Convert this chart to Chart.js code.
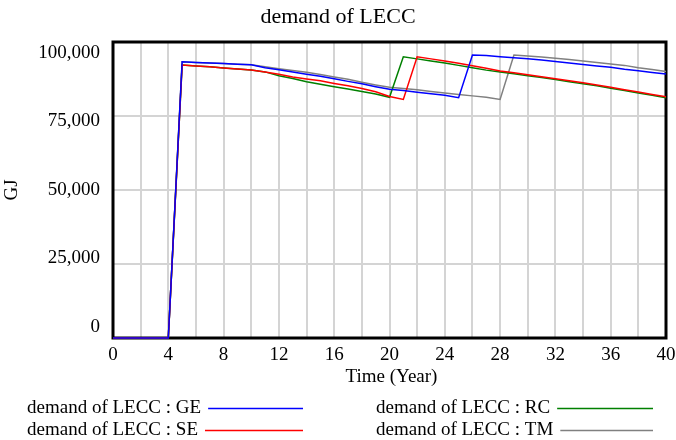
<!DOCTYPE html>
<html>
<head>
<meta charset="utf-8">
<script src="https://cdn.jsdelivr.net/npm/chart.js@4/dist/chart.umd.min.js"></script>
<style>
html,body{margin:0;padding:0;background:#fff;}
#c{display:block;}
</style>
</head>
<body>
<canvas id="c" width="676" height="440"></canvas>
<script>
const chartTitle = 'demand of LECC';
const xTitle = 'Time (Year)';
const yTitle = 'GJ';
const years = [0,1,2,3,4,5,6,7,8,9,10,11,12,13,14,15,16,17,18,19,20,21,22,23,24,25,26,27,28,29,30,31,32,33,34,35,36,37,38,39,40];
const yTicks = [0, 25000, 50000, 75000, 100000];
const seriesNames = ['demand of LECC : GE', 'demand of LECC : SE', 'demand of LECC : RC', 'demand of LECC : TM'];
const seriesColors = ['#0000ff', '#ff0000', '#008000', '#808080'];
const GE = [0,0,0,0,0, 93300,93100,92900,92700,92500,92300, 91300,90600,89900,89100,88400,87600,86700,85900,84900,84000, 83600,83000,82500,82000,81200, 95600,95400,95000,94700,94300,93900,93400,92900,92400,91900,91500,90800,90300,89700,89200];
const SE = [0,0,0,0,0, 92200,91900,91600,91200,90900,90500, 89900,89100,88200,87500,86900,86000,85200,84300,83200,81600, 80600, 95000,94300,93600,92800,92000,91100,90200,89600,88900,88300,87600,86900,86200,85500,84700,83900,83100,82300,81500];
const RC = [0,0,0,0,0, 92200,91900,91600,91200,90900,90500, 89900,88600,87700,86600,85700,84900,84100,83300,82400,81300, 95000,94300,93600,92900,92100,91300,90500,89900,89300,88600,88000,87300,86600,85900,85200,84400,83600,82800,82000,81200];
const TM = [0,0,0,0,0, 93300,93100,92900,92700,92500,92300, 91600,91000,90400,89800,89000,88200,87400,86400,85500,84700, 84300,83900,83300,82800,82300,81800,81300,80600, 95600,95300,94900,94500,94100,93600,93100,92600,92100,91300,90700,90000];
const seriesData = [GE, SE, RC, TM];

const FONT = "'Liberation Serif', 'Times New Roman', serif";

const datasets = seriesData.map((arr, i) => ({
  label: seriesNames[i],
  data: arr.map((v, k) => ({x: years[k], y: v})),
  borderColor: seriesColors[i],
  backgroundColor: seriesColors[i],
  borderWidth: 1.5,
  pointRadius: 0,
  tension: 0,
  fill: false,
  clip: 6
}));

const decor = {
  id: 'decor',
  beforeDatasetsDraw(chart) {
    const ctx = chart.ctx, a = chart.chartArea;
    ctx.save();
    ctx.strokeStyle = '#000';
    ctx.lineWidth = 3;
    ctx.strokeRect(a.left, a.top, a.right - a.left, a.bottom - a.top);
    ctx.restore();
  },
  afterDraw(chart) {
    const ctx = chart.ctx, a = chart.chartArea;
    const ys = chart.scales.y;
    ctx.save();
    ctx.fillStyle = '#000';
    // title
    ctx.font = '22px ' + FONT;
    ctx.textAlign = 'center';
    ctx.textBaseline = 'middle';
    ctx.fillText(chartTitle, 338, 17);
    // y tick labels (Vensim-style inset placement)
    ctx.font = '19px ' + FONT;
    ctx.textAlign = 'right';
    const h = a.bottom - a.top;
    yTicks.forEach(v => {
      const py = ys.getPixelForValue(v);
      const yy = a.top + 11 + (py - a.top) * (h - 22) / h;
      ctx.fillText(v.toLocaleString('en-US'), a.left - 13, yy);
    });
    // y title
    ctx.save();
    ctx.translate(12, (a.top + a.bottom) / 2);
    ctx.rotate(-Math.PI / 2);
    ctx.textAlign = 'center';
    ctx.fillText(yTitle, 0, 0);
    ctx.restore();
    // x title
    ctx.textAlign = 'center';
    ctx.fillText(xTitle, (a.left + a.right) / 2 + 2, 377);
    // legend
    const pos = [[27, 408, 303], [376, 408, 653], [27, 430, 303], [376, 430, 653]];
    const order = [0, 2, 1, 3];
    ctx.textAlign = 'left';
    order.forEach((si, k) => {
      const [tx, ty, lend] = pos[k];
      ctx.fillStyle = '#000';
      ctx.fillText(seriesNames[si], tx, ty);
      const w = ctx.measureText(seriesNames[si]).width;
      ctx.strokeStyle = seriesColors[si];
      ctx.lineWidth = 1.5;
      ctx.beginPath();
      ctx.moveTo(tx + w + 7, ty + 0.5);
      ctx.lineTo(lend, ty + 0.5);
      ctx.stroke();
    });
    ctx.restore();
  }
};

new Chart(document.getElementById('c'), {
  type: 'line',
  data: { datasets },
  options: {
    responsive: false,
    animation: false,
    events: [],
    layout: { padding: { left: 113, right: 10, top: 42, bottom: 62 } },
    plugins: { legend: { display: false }, title: { display: false }, tooltip: { enabled: false } },
    scales: {
      x: {
        type: 'linear', min: 0, max: 40,
        border: { display: false },
        grid: { color: '#d4d4d4', lineWidth: 2, drawTicks: false },
        ticks: {
          stepSize: 2, autoSkip: false, maxRotation: 0, padding: 6,
          color: '#000', font: { family: FONT, size: 19 },
          callback: v => (v % 4 === 0 ? String(v) : '')
        },
        afterFit: s => { s.height = 40; s.paddingLeft = 0; s.paddingRight = 0; }
      },
      y: {
        type: 'linear', min: 0, max: 100000,
        border: { display: false },
        grid: { color: '#d4d4d4', lineWidth: 2, drawTicks: false },
        ticks: { display: false, stepSize: 25000 },
        afterFit: s => { s.width = 0; s.paddingTop = 0; s.paddingBottom = 0; }
      }
    }
  },
  plugins: [decor]
});
</script>
</body>
</html>
